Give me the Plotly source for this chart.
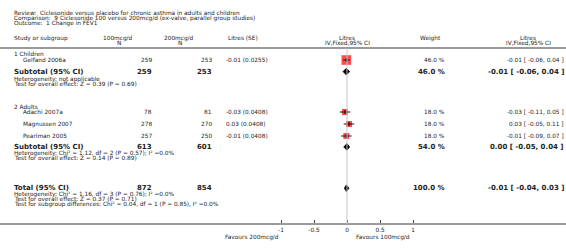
import plotly.graph_objects as go

# ---------------- data ----------------
review_lines = [
    "Review:  Ciclesonide versus placebo for chronic asthma in adults and children",
    "Comparison:  9 Ciclesonide 100 versus 200mcg/d (ex-valve, parallel group studies)",
    "Outcome:  1 Change in FEV1",
]
subgroups = ["1 Children", "2 Adults"]
studies = ["Gelfand 2006a", "Adachi 2007a", "Magnussen 2007", "Pearlman 2005"]
n100 = [259, 78, 278, 257]
n200 = [253, 81, 270, 250]
est = [-0.01, -0.03, 0.03, -0.01]
se = ["0.0255", "0.0408", "0.0408", "0.0408"]
lo = [-0.06, -0.11, -0.05, -0.09]
hi = [0.04, 0.05, 0.11, 0.07]
weight = [46.0, 18.0, 18.0, 18.0]

sub_n100 = [259, 613]
sub_n200 = [253, 601]
sub_weight = [46.0, 54.0]
sub_est = [-0.01, 0.00]
sub_lo = [-0.06, -0.05]
sub_hi = [0.04, 0.04]
sub_het = ["Heterogeneity: not applicable",
           "Heterogeneity: Chi² = 1.12, df = 2 (P = 0.57); I² =0.0%"]
sub_test = ["Test for overall effect: Z = 0.39 (P = 0.69)",
            "Test for overall effect: Z = 0.14 (P = 0.89)"]

tot_n100 = 872
tot_n200 = 854
tot_weight = 100.0
tot_est, tot_lo, tot_hi = -0.01, -0.04, 0.03
tot_notes = ["Heterogeneity: Chi² = 1.16, df = 3 (P = 0.76); I² =0.0%",
             "Test for overall effect: Z = 0.37 (P = 0.71)",
             "Test for subgroup differences: Chi² = 0.04, df = 1 (P = 0.85), I² =0.0%"]

tick_vals = [-1, -0.5, 0, 0.5, 1]
tick_labels = ["-1", "-0.5", "0", "0.5", "1"]
favours_left = "Favours 200mcg/d"
favours_right = "Favours 100mcg/d"

# ---------------- layout (pixels) ----------------
W, H = 566, 248
X0PX, PXU = 347, 66.0          # pixel of zero, pixels per unit
xr = [-X0PX / PXU, (W - X0PX) / PXU]

# row positions (pixels from top)
y_title = [13, 18, 23]
y_head1, y_head2 = 38, 43
y_sep = 48
y_sub_label = [54, 107]
y_study = [60, 112, 124, 136]
y_sub_tot = [71.6, 146.9]
y_sub_het = [79.3, 153.2]
y_sub_test = [84.3, 158.0]
y_total = 188.2
y_tot_notes = [194.2, 199.1, 204]
y_axis = 224
y_fav = 237

TXT = "#222222"
FONT = "DejaVu Sans"
FS = 5.8
FSB = 7.0

fig = go.Figure()
ann = []


def px(x):
    return x / W


def t(x, y, s, anchor="left", bold=False, size=None):
    ann.append(dict(
        x=px(x), y=y, xref="paper", yref="y", text=("<b>%s</b>" % s) if bold else s,
        showarrow=False, xanchor=anchor, yanchor="middle", borderpad=0,
        font=dict(family=FONT, size=size or (FSB if bold else FS), color=TXT)))


def fmt(v):
    return "%.2f" % v


def ci_text(e, l, h):
    return "%s [ %s, %s ]" % (fmt(e), fmt(l), fmt(h))


for yy, s in zip(y_title, review_lines):
    t(13, yy, s)

# header
t(13, y_head1, "Study or subgroup")
t(118, y_head1, "100mcg/d", "center")
t(119, y_head2, "N", "center")
t(179, y_head1, "200mcg/d", "center")
t(180, y_head2, "N", "center")
t(227, y_head1, "Litres (SE)")
t(347, y_head1, "Litres", "center")
t(347, y_head2, "IV,Fixed,95% CI", "center")
t(430, y_head1, "Weight", "center")
t(528, y_head1, "Litres", "center")
t(528, y_head2, "IV,Fixed,95% CI", "center")

# studies
for i, s in enumerate(studies):
    yy = y_study[i]
    t(22, yy, s)
    t(153, yy, str(n100[i]), "right")
    t(213, yy, str(n200[i]), "right")
    t(225, yy, "%s (%s)" % (fmt(est[i]), se[i]))
    t(446, yy, "%.1f %%" % weight[i], "right")
    t(565, yy, ci_text(est[i], lo[i], hi[i]), "right")

# subgroups
for g in range(2):
    t(13, y_sub_label[g], subgroups[g])
    yy = y_sub_tot[g]
    t(13, yy, "Subtotal (95% CI)", bold=True)
    t(153, yy, str(sub_n100[g]), "right", bold=True)
    t(213, yy, str(sub_n200[g]), "right", bold=True)
    t(446, yy, "%.1f %%" % sub_weight[g], "right", bold=True)
    t(565, yy, ci_text(sub_est[g], sub_lo[g], sub_hi[g]), "right", bold=True)
    t(13, y_sub_het[g], sub_het[g])
    t(13, y_sub_test[g], sub_test[g])

# total
t(13, y_total, "Total (95% CI)", bold=True)
t(153, y_total, str(tot_n100), "right", bold=True)
t(213, y_total, str(tot_n200), "right", bold=True)
t(446, y_total, "%.1f %%" % tot_weight, "right", bold=True)
t(565, y_total, ci_text(tot_est, tot_lo, tot_hi), "right", bold=True)
for yy, s in zip(y_tot_notes, tot_notes):
    t(13, yy, s)

t(280, y_fav, favours_left, "right")
t(355, y_fav, favours_right, "left")

# ---------------- marks ----------------
shapes = [
    dict(type="line", xref="paper", yref="y", x0=0, x1=1, y0=y_sep, y1=y_sep,
         line=dict(color="#9a9a9a", width=2)),
    dict(type="line", xref="x", yref="y", x0=0, x1=0, y0=y_sep, y1=y_axis,
         line=dict(color="#c8c8c8", width=1)),
]
fig.update_layout(shapes=shapes)

# study squares
fig.add_trace(go.Scatter(
    x=est, y=y_study, mode="markers",
    marker=dict(symbol="square", color="#ff0000",
                size=[1.42 * w ** 0.5 for w in weight],
                line=dict(width=0)),
    hoverinfo="skip", showlegend=False))
# CI lines
for i in range(len(studies)):
    fig.add_trace(go.Scatter(
        x=[lo[i], hi[i]], y=[y_study[i], y_study[i]], mode="lines",
        line=dict(color="#000000", width=0.9), hoverinfo="skip", showlegend=False))
fig.add_trace(go.Scatter(
    x=est, y=y_study, mode="markers",
    marker=dict(symbol="line-ns", size=3, line=dict(color="#000000", width=0.9)),
    hoverinfo="skip", showlegend=False))

# diamonds
DH = 3.3
dia = [(sub_est[g], sub_lo[g], sub_hi[g], y_sub_tot[g]) for g in range(2)]
dia.append((tot_est, tot_lo, tot_hi, y_total))
for e, l, h, yy in dia:
    fig.add_trace(go.Scatter(
        x=[l, e, h, e, l], y=[yy, yy - DH, yy, yy + DH, yy], mode="lines",
        fill="toself", fillcolor="#000000", line=dict(color="#000000", width=0.8),
        hoverinfo="skip", showlegend=False))

fig.update_layout(
    width=W, height=H, margin=dict(l=0, r=0, t=0, b=0),
    paper_bgcolor="white", plot_bgcolor="white",
    annotations=ann,
    xaxis=dict(range=xr, domain=[0, 1], anchor="free", position=1 - y_axis / H,
               showgrid=False, zeroline=False, showline=True, linecolor="#9a9a9a",
               linewidth=2, tickvals=tick_vals, ticktext=tick_labels,
               ticks="inside", ticklen=3, tickcolor="#444444", tickwidth=1,
               tickfont=dict(family=FONT, size=FS, color=TXT), fixedrange=True,
               automargin=False),
    yaxis=dict(range=[H, 0], domain=[0, 1], visible=False, fixedrange=True,
               automargin=False),
)

fig.write_html("out.html", config={"displayModeBar": False},
               post_script="document.body.style.margin='0px';"
                           "document.body.style.overflow='hidden';")
